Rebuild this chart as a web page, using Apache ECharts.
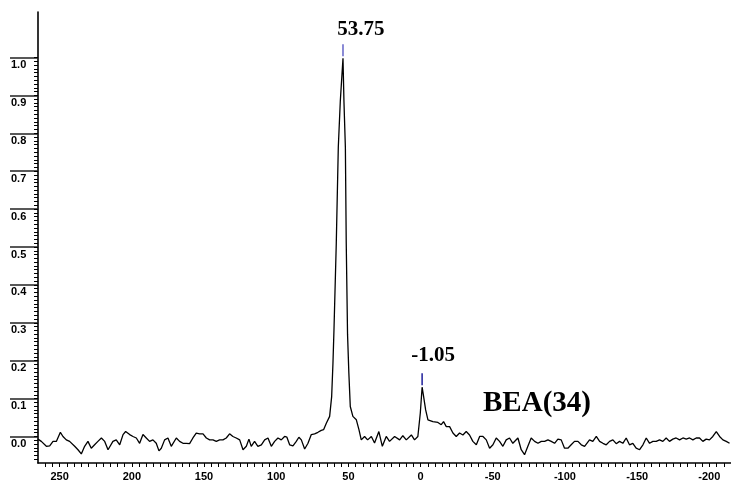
<!DOCTYPE html>
<html>
<head>
<meta charset="utf-8">
<script src="https://cdn.jsdelivr.net/npm/echarts@6/dist/echarts.min.js"></script>
<style>
  html, body { margin: 0; padding: 0; background: #fff; }
  #chart { width: 731px; height: 486px; }
</style>
</head>
<body>
<div id="chart"></div>
<script>
// chemical shift (ppm) and normalised intensity
const shift = [
  265.0, 262.7, 259.2, 256.9, 254.6, 252.3, 251.2, 249.5, 247.7, 246.5,
  245.4, 243.1, 241.9, 239.6, 237.3, 235.0, 232.7, 230.4, 228.1, 225.8,
  223.5, 221.1, 218.8, 216.5, 215.4, 213.1, 210.8, 208.4, 206.1, 204.3,
  201.5, 199.2, 196.9, 194.6, 192.3, 190.0, 187.7, 185.4, 183.1, 181.2,
  179.6, 177.3, 175.0, 172.7, 171.5, 169.2, 166.9, 164.6, 162.3, 160.0,
  157.7, 155.4, 153.0, 150.7, 149.6, 148.4, 146.1, 143.8, 141.5, 139.2,
  136.9, 134.6, 132.3, 130.0, 127.7, 125.3, 123.0, 120.7, 118.9, 117.3,
  115.0, 112.7, 110.3, 108.0, 105.7, 103.4, 101.1, 98.8, 96.5, 94.2,
  92.6, 90.7, 88.4, 86.1, 84.3, 82.6, 80.3, 78.0, 75.7, 73.4,
  71.1, 68.8, 67.2, 65.3, 63.0, 61.6, 60.7, 60.0, 58.4, 57.0,
  55.6, 53.75, 53.1, 52.1, 51.5, 50.6, 49.7, 48.7, 46.9, 44.5,
  42.7, 41.1, 38.8, 36.7, 34.1, 31.9, 28.9, 26.5, 23.8, 21.5,
  18.0, 14.5, 12.3, 9.9, 6.4, 4.2, 1.9, 0.2, -1.05, -2.1,
  -3.5, -5.1, -8.5, -12.0, -14.3, -15.9, -17.8, -20.1, -22.4, -24.7,
  -27.0, -29.3, -31.6, -33.9, -36.2, -38.6, -40.9, -43.2, -45.5, -47.8,
  -50.1, -52.4, -54.7, -57.0, -59.3, -61.6, -63.9, -67.4, -69.7, -72.0,
  -74.3, -76.6, -79.0, -81.3, -83.6, -85.9, -88.2, -90.5, -92.8, -95.1,
  -97.4, -99.7, -102.0, -104.3, -106.6, -109.0, -111.3, -113.6, -117.0, -119.3,
  -121.7, -124.0, -126.3, -128.6, -130.9, -133.2, -135.5, -137.8, -140.1, -142.4,
  -144.7, -147.0, -149.3, -151.7, -154.0, -156.3, -158.6, -160.9, -163.2, -165.5,
  -167.8, -170.1, -172.4, -174.7, -177.0, -179.4, -181.7, -184.0, -186.3, -188.6,
  -190.9, -193.2, -195.5, -197.8, -200.1, -202.4, -204.8, -207.1, -209.4, -211.7,
  -214.0
];
const intensity = [
  -0.007, -0.013, -0.026, -0.025, -0.013, -0.013, -0.009, 0.011, 0.000, 0.005,
  -0.009, -0.013, -0.009, -0.026, -0.035, -0.046, -0.026, -0.013, -0.031, -0.022,
  -0.013, -0.004, -0.013, -0.035, -0.038, -0.013, -0.009, -0.022, 0.005, 0.013,
  0.005, 0.000, -0.004, -0.018, 0.005, -0.004, -0.013, -0.009, -0.018, -0.038,
  -0.031, -0.009, -0.004, -0.026, -0.025, -0.004, -0.013, -0.018, -0.018, -0.019,
  -0.004, 0.009, 0.007, 0.007, 0.011, -0.004, -0.009, -0.009, -0.013, -0.009,
  -0.009, -0.004, 0.007, 0.000, -0.004, -0.009, -0.035, -0.026, -0.007, -0.026,
  -0.013, -0.026, -0.022, -0.009, -0.004, -0.026, -0.013, -0.004, -0.009, 0.000,
  -0.002, -0.022, -0.025, -0.013, -0.002, -0.009, -0.033, -0.018, 0.005, 0.007,
  0.011, 0.016, 0.018, 0.035, 0.053, 0.105, 0.193, 0.281, 0.510, 0.763,
  0.886, 0.998, 0.886, 0.763, 0.510, 0.270, 0.168, 0.079, 0.053, 0.044,
  0.018, -0.009, 0.000, -0.009, 0.000, -0.017, 0.013, -0.026, 0.000, -0.013,
  0.000, -0.009, 0.002, -0.009, 0.004, -0.009, 0.000, 0.062, 0.130, 0.105,
  0.070, 0.044, 0.039, 0.037, 0.031, 0.039, 0.026, 0.026, 0.009, 0.000,
  0.009, 0.004, 0.013, 0.004, -0.013, -0.022, 0.000, 0.000, -0.009, -0.031,
  -0.022, -0.004, -0.013, -0.026, -0.009, -0.004, -0.018, -0.004, -0.035, -0.048,
  -0.026, -0.004, -0.013, -0.018, -0.013, -0.013, -0.009, -0.013, -0.018, -0.007,
  -0.009, -0.031, -0.031, -0.022, -0.013, -0.013, -0.022, -0.026, -0.009, -0.013,
  0.000, -0.013, -0.018, -0.022, -0.013, -0.009, -0.019, -0.013, -0.018, -0.004,
  -0.022, -0.018, -0.031, -0.035, -0.022, -0.004, -0.018, -0.013, -0.013, -0.009,
  -0.013, -0.004, -0.013, -0.007, -0.004, -0.009, -0.004, -0.007, -0.004, -0.009,
  -0.004, -0.004, -0.013, -0.007, -0.009, 0.000, 0.013, 0.000, -0.009, -0.013,
  -0.018
];

// picked peaks
const peakShift = [53.75, -1.05];
const peakHeight = [0.998, 0.130];

// tick labels
const xLabels = [250, 200, 150, 100, 50, 0, -50, -100, -150, -200];
const yLabels = [0.0, 0.1, 0.2, 0.3, 0.4, 0.5, 0.6, 0.7, 0.8, 0.9, 1.0];

// minor tick positions
const xMinor = [];
for (let v = -210; v <= 260; v += 5) xMinor.push(v);
const yMinor = [];
for (let i = -6; i <= 100; i++) yMinor.push(+(i / 100).toFixed(2));

const markerColors = ['#6464c8', '#1e1e9a'];
const labelOffsets = [[18, 0], [11, -3]];

const axisFont = { fontFamily: 'Liberation Sans, Arial, sans-serif', fontWeight: 'bold', fontSize: 11, color: '#000' };

const chart = echarts.init(document.getElementById('chart'), null, { renderer: 'canvas' });

chart.setOption({
  animation: false,
  backgroundColor: '#fff',
  grid: { left: 38, right: 0, top: 12, bottom: 23, outerBoundsMode: 'none' },
  xAxis: {
    type: 'value',
    inverse: true,
    min: -215,
    max: 265,
    splitLine: { show: false },
    axisLine: { show: true, onZero: false, lineStyle: { color: '#000', width: 1.6 } },
    axisTick: { show: true, customValues: xMinor, length: 4, lineStyle: { color: '#000', width: 1 } },
    axisLabel: Object.assign({ customValues: xLabels, margin: 8 }, axisFont)
  },
  yAxis: [
    {
      type: 'value',
      min: -0.07,
      max: 1.12,
      splitLine: { show: false },
      axisLine: { show: true, onZero: false, lineStyle: { color: '#000', width: 1.6 } },
      axisTick: { show: true, customValues: yLabels, length: 28, lineStyle: { color: '#222', width: 1.5 } },
      axisLabel: Object.assign({
        customValues: yLabels,
        align: 'left',
        verticalAlign: 'top',
        margin: 27,
        padding: [2, 0, 0, 0],
        formatter: v => v.toFixed(1)
      }, axisFont)
    },
    {
      type: 'value',
      min: -0.07,
      max: 1.12,
      position: 'left',
      splitLine: { show: false },
      axisLine: { show: false, onZero: false },
      axisTick: { show: true, customValues: yMinor, length: 4, lineStyle: { color: '#000', width: 1 } },
      axisLabel: { show: false }
    }
  ],
  series: [
    {
      type: 'line',
      data: shift.map((s, i) => [s, intensity[i]]),
      showSymbol: false,
      smooth: false,
      lineStyle: { color: '#000', width: 1.3 },
      z: 3
    },
    {
      type: 'scatter',
      symbol: 'rect',
      symbolSize: [1.5, 12],
      symbolOffset: [0, -8],
      itemStyle: { opacity: 1 },
      z: 4,
      label: {
        show: true,
        position: 'top',
        distance: 4,
        fontFamily: 'Liberation Serif, Times New Roman, serif',
        fontWeight: 'bold',
        fontSize: 21,
        color: '#000',
        formatter: p => String(p.value[0])
      },
      data: peakShift.map((s, i) => ({
        value: [s, peakHeight[i]],
        itemStyle: { color: markerColors[i], opacity: 1 },
        label: { offset: labelOffsets[i] }
      }))
    }
  ],
  graphic: [
    {
      type: 'text',
      left: 483,
      top: 389,
      style: {
        text: 'BEA(34)',
        fontFamily: 'Liberation Serif, Times New Roman, serif',
        fontWeight: 'bold',
        fontSize: 29,
        fill: '#000'
      }
    }
  ]
});
</script>
</body>
</html>
